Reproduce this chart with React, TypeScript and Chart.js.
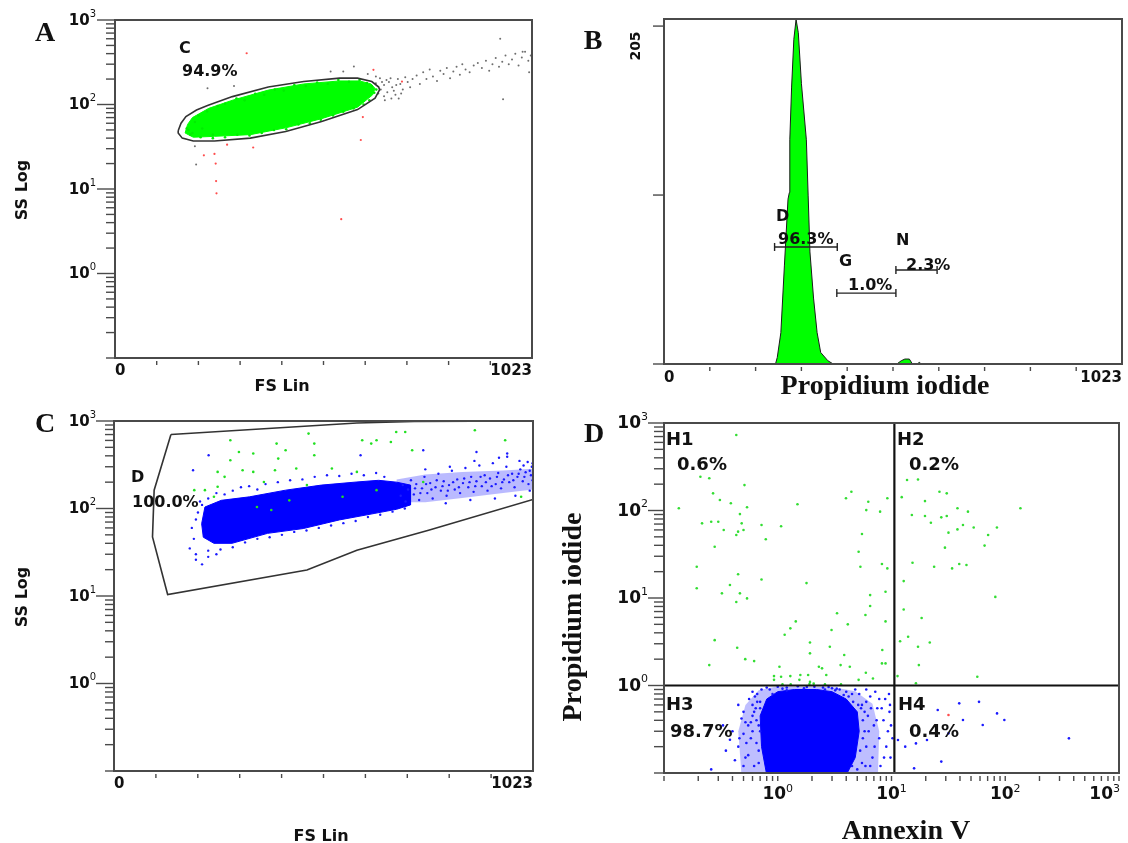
import React, { useEffect, useRef } from 'react';
import { Chart, registerables } from 'chart.js';

Chart.register(...registerables);

type P = [number, number];

// ---------------- shared axis ticks ----------------
const LIN_TICKS = [0, 102.3, 204.6, 306.9, 409.2, 511.5, 613.8, 716.1, 818.4, 920.7, 1023];
const LIN_TICK_LABELS = ['0', '1023'];
const LOG_TICKS = [0.1, 0.2, 0.3, 0.4, 0.5, 0.6, 0.7, 0.8, 0.9, 1, 2, 3, 4, 5, 6, 7, 8, 9, 10, 20, 30, 40, 50, 60, 70, 80, 90, 100, 200, 300, 400, 500, 600, 700, 800, 900, 1000];
const LOG_MAJOR = [1, 10, 100, 1000];
const LOG_LABEL_VALUES = [1, 10, 100, 1000];
const LOG_LABEL_EXPONENTS = ['0', '1', '2', '3'];
const B_Y_TICKS = [0, 102.5, 205];
const B_Y_TICK_LABEL = '205';

// ---------------- Panel A: FS Lin vs SS Log, gate C ----------------
const gateA_ellipse: P[] = [
  [155, 49], [162, 60], [174, 72], [200, 86], [227, 97], [288, 124], [376, 161], [463, 187], [551, 205], [595, 205],
  [630, 187], [647, 161], [649, 149], [638, 119], [595, 87], [507, 63], [419, 48], [332, 40], [244, 37], [192, 37],
  [165, 40], [155, 46], [155, 49],
];
const greenA_cloud: P[] = [
  [172, 46], [178, 58], [190, 70], [230, 90], [290, 113], [376, 148], [463, 175], [551, 190], [600, 190], [628, 175],
  [638, 155], [632, 130], [595, 93], [507, 68], [419, 53], [332, 44], [244, 42], [192, 41], [172, 46],
];
const greenA_points: P[] = [
  [180, 50], [185, 44], [196, 62], [205, 74], [214, 52], [226, 83], [240, 44], [252, 96], [270, 102], [298, 118],
  [318, 112], [344, 134], [366, 130], [392, 150], [414, 146], [440, 170], [468, 165], [496, 182], [522, 176], [548, 195],
  [574, 186], [600, 195], [618, 180], [630, 165], [641, 150], [636, 138], [624, 112], [610, 100], [585, 90], [560, 82],
  [535, 74], [505, 66], [478, 60], [450, 58], [420, 51], [390, 50], [360, 46], [330, 43], [300, 44], [270, 41],
  [240, 40], [210, 41], [190, 46], [176, 52],
];
const greyA_points: P[] = [
  [652, 150], [660, 170], [668, 140], [672, 185], [680, 160], [688, 130], [694, 200], [700, 175], [706, 150], [712, 210],
  [660, 125], [676, 205], [690, 170], [702, 135], [718, 185], [724, 160], [730, 200], [684, 145], [666, 195], [646, 135],
  [655, 185], [662, 112], [678, 118], [696, 118], [640, 178], [650, 205],
  [740, 220], [748, 175], [756, 240], [764, 200], [772, 260], [780, 215], [790, 190], [798, 250], [806, 230], [814, 270],
  [822, 205], [830, 245], [838, 280], [846, 225], [852, 300], [860, 260],
  [870, 240], [880, 290], [890, 310], [900, 270], [910, 330], [918, 250], [926, 300], [934, 355], [942, 280], [950, 320],
  [958, 380], [966, 300], [974, 340], [982, 400], [990, 290], [998, 360], [1006, 420], [1014, 330], [1020, 380],
  [945, 600], [1000, 420], [1016, 240], [952, 115], [227, 156], [292, 166], [560, 245], [586, 281], [529, 245],
  [196, 32], [199, 19.5], [620, 230], [640, 215],
];
const redA_points: P[] = [
  [323, 404], [608, 71], [603, 38], [555, 4.4], [244, 26], [247, 20], [248, 12.4], [249, 8.9], [218, 25], [339, 31],
  [275, 33.5], [634, 257], [704, 187],
];

// ---------------- Panel B: Propidium iodide histogram ----------------
const histB_channel = [249, 253, 261, 269, 273, 277, 280, 281, 285, 290, 295, 300, 307, 318, 322, 326, 334, 342, 350, 366, 378, 520, 530, 538, 548, 555, 566, 570, 575, 580];
const histB_count = [0, 4, 19, 60, 80, 100, 104, 136, 168, 197, 209, 201, 170, 136, 102, 68, 40, 19, 7, 2, 0, 0, 2, 3, 3, 0, 0, 1, 0, 0];
const gateB_names = ['D', 'G', 'N'];
const gateB_percent = ['96.3%', '1.0%', '2.3%'];
const gateB_start = [247, 386, 518];
const gateB_end = [387, 518, 610];
const gateB_level = [71, 43, 57];

// ---------------- Panel C: FS Lin vs SS Log, gate D ----------------
const gateC_polygon: P[] = [
  [139, 700], [593, 949], [733, 985], [1023, 1000], [1023, 127], [768, 56.5], [593, 33.4], [471, 19.8], [131, 10.4],
  [94, 47.4], [98, 162], [139, 700],
];
const blueC_core: P[] = [
  [222, 104], [262, 124], [331, 136], [419, 162], [506, 185], [593, 201], [646, 210], [690, 200], [724, 185], [724, 110],
  [690, 98], [637, 88], [550, 74], [462, 59], [375, 52], [288, 40], [244, 40], [218, 47], [214, 67], [222, 104],
];
const blueC_band: P[] = [
  [690, 118], [690, 215], [760, 245], [850, 262], [950, 272], [1023, 285], [1023, 165], [950, 150], [850, 132], [760, 118], [690, 118],
];
const blueC_points: P[] = [
  [700, 140], [705, 185], [712, 120], [718, 165], [725, 210], [732, 145], [738, 190], [745, 125], [752, 170], [758, 230],
  [765, 150], [772, 195], [778, 130], [785, 175], [792, 250], [798, 160], [805, 205], [812, 140], [818, 185], [825, 270],
  [832, 165], [838, 215], [845, 150], [852, 195], [858, 290], [865, 175], [872, 230], [878, 155], [885, 205], [892, 310],
  [898, 180], [905, 240], [912, 160], [918, 220], [925, 330], [932, 190], [938, 255], [945, 170], [952, 215], [958, 300],
  [965, 200], [972, 250], [978, 175], [985, 230], [992, 280], [998, 205], [1005, 260], [1012, 190], [1018, 240], [1020, 300],
  [1010, 340], [990, 350], [960, 390], [940, 380], [880, 350], [820, 300], [760, 280], [1015, 160], [980, 140], [930, 130],
  [870, 125], [810, 115], [1000, 310], [1022, 210], [1022, 330],
  [735, 170], [748, 150], [762, 190], [775, 165], [788, 210], [802, 180], [815, 160], [828, 200], [842, 175], [855, 220],
  [868, 200], [882, 180], [895, 230], [908, 200], [922, 180], [935, 230], [948, 200], [962, 240], [975, 210], [988, 250],
  [1002, 230], [1015, 270],
  [190, 60], [195, 45], [200, 75], [205, 90], [185, 35], [200, 30], [215, 110], [210, 120], [230, 130], [250, 150],
  [270, 145], [290, 160], [310, 175], [330, 180], [350, 165], [370, 190], [400, 200], [430, 210], [460, 215], [490, 230],
  [520, 240], [550, 235], [580, 250], [610, 240], [640, 255], [660, 230],
  [230, 33], [260, 34], [290, 36], [320, 41], [350, 45], [380, 47], [410, 50], [440, 54], [470, 56], [500, 60],
  [530, 64], [560, 68], [590, 72], [620, 80], [650, 85], [680, 92], [710, 100], [230, 28], [200, 26], [215, 23],
  [250, 30], [231, 406], [193, 274], [602, 406], [755, 463], [885, 443], [960, 425],
];
const greenC_points: P[] = [
  [284, 603], [305, 443], [340, 425], [397, 552], [419, 463], [401, 372], [475, 718], [489, 552], [489, 406], [445, 286],
  [393, 274], [366, 201], [340, 262], [314, 274], [253, 262], [270, 230], [284, 356], [253, 177], [222, 162], [196, 162],
  [244, 136], [606, 603], [628, 552], [641, 603], [676, 576], [689, 748], [711, 748], [728, 463], [755, 201], [881, 783],
  [955, 603], [994, 136], [532, 286], [593, 262], [471, 185], [428, 124], [384, 96], [349, 104], [558, 136], [641, 162],
];

// ---------------- Panel D: Annexin V vs Propidium iodide ----------------
const quadD_splitX = 10.6;
const quadD_splitY = 1.0;
const quadD_names = ['H1', 'H2', 'H3', 'H4'];
const quadD_percent = ['0.6%', '0.2%', '98.7%', '0.4%'];
const blueD_core: P[] = [
  [0.72, 0.2], [0.7, 0.45], [0.8, 0.7], [1.0, 0.85], [1.4, 0.9], [2.2, 0.9], [3, 0.85], [4, 0.7], [5, 0.5], [5.2, 0.3],
  [4.8, 0.15], [4, 0.095], [0.8, 0.095], [0.72, 0.2],
];
const blueD_halo: P[] = [
  [0.48, 0.095], [0.45, 0.3], [0.52, 0.6], [0.68, 0.88], [0.95, 0.97], [3, 0.96], [4.8, 0.86], [6.8, 0.62], [7.8, 0.3],
  [7.6, 0.095], [0.48, 0.095],
];
const blueD_points: P[] = [
  [0.4, 0.3], [0.45, 0.2], [0.5, 0.5], [0.52, 0.15], [0.55, 0.35], [0.58, 0.25], [0.6, 0.6], [0.62, 0.12], [0.65, 0.4], [0.66, 0.8],
  [0.68, 0.18], [0.7, 0.3], [0.48, 0.42], [0.42, 0.14], [0.38, 0.24], [0.5, 0.28], [0.56, 0.7], [0.6, 0.85], [0.64, 0.55], [0.7, 0.65],
  [0.72, 0.9], [0.45, 0.6], [0.35, 0.18], [0.53, 0.22], [0.6, 0.45], [0.68, 0.35], [0.33, 0.35], [0.26, 0.11],
  [0.55, 0.16], [0.6, 0.3], [0.62, 0.5], [0.65, 0.22], [0.66, 0.65], [0.68, 0.13], [0.7, 0.55], [0.58, 0.38], [0.63, 0.75], [0.5, 0.12],
  [0.46, 0.25], [0.52, 0.38],
  [0.8, 0.95], [1.0, 0.97], [1.2, 0.95], [1.5, 0.98], [1.8, 0.96], [2.1, 0.97], [2.5, 0.95], [3, 0.93], [3.5, 0.9], [4, 0.85],
  [1.1, 0.92], [1.7, 0.93], [2.8, 0.96], [3.2, 0.88], [0.85, 0.9], [0.9, 0.8], [1.2, 0.88], [2.6, 0.9], [3.3, 0.92], [3.8, 0.78],
  [5.5, 0.6], [5.8, 0.3], [6, 0.2], [6.2, 0.45], [6.5, 0.75], [6.8, 0.15], [7, 0.35], [7.5, 0.55], [7.8, 0.25], [8, 0.12],
  [8.5, 0.4], [8.8, 0.7], [9, 0.2], [9.3, 0.3], [9.6, 0.5], [9.8, 0.15], [5.2, 0.8], [5.5, 0.13], [6.5, 0.12], [7.2, 0.85],
  [6, 0.65], [8.2, 0.55], [9.5, 0.8], [5.6, 0.4], [4.5, 0.8], [4.8, 0.9],
  [4.2, 0.75], [4.6, 0.65], [5.1, 0.6], [5.4, 0.55], [5.6, 0.25], [5.3, 0.18], [5.8, 0.5], [5.9, 0.12], [6.3, 0.3], [6.6, 0.55],
  [7.1, 0.2], [7.4, 0.4], [5.0, 0.11], [4.5, 0.12], [6.0, 0.9], [7.8, 0.7], [8.6, 0.15], [9.9, 0.35], [9.7, 0.6], [10.2, 0.25],
  [39.4, 0.625], [58.8, 0.65], [84.7, 0.48], [98.2, 0.404], [63.4, 0.354], [42.5, 0.404], [25.5, 0.525], [363, 0.249], [15.8, 0.113], [27.4, 0.135],
  [20.5, 0.238], [16.4, 0.218], [13.2, 0.2], [11.4, 0.238], [31.7, 0.284],
];
const greenD_points: P[] = [
  [0.432, 730], [0.209, 243], [0.25, 234], [0.51, 195], [0.27, 157], [0.31, 132], [0.387, 121], [0.135, 106], [0.537, 109], [1.49, 118],
  [0.216, 71.3], [0.26, 74.5], [0.3, 74.5], [0.335, 59.8], [0.465, 91], [0.482, 71.3], [0.448, 57.3], [0.432, 52.5], [0.5, 59.8], [0.72, 68.2],
  [1.07, 66], [0.785, 46.9], [0.279, 38.5], [0.194, 22.8], [0.448, 18.7], [0.72, 16.3], [0.38, 14.1], [0.194, 12.9], [0.323, 11.3], [0.465, 11.3],
  [0.432, 9.0], [0.537, 9.9], [1.79, 14.8], [1.44, 5.4], [1.29, 4.5], [1.15, 3.8], [0.279, 3.3], [0.44, 2.7], [0.25, 1.71], [0.518, 2.0],
  [0.62, 1.9], [0.927, 1.28], [1.035, 1.64], [1.07, 1.26], [1.29, 1.28], [1.58, 1.32], [1.85, 1.32], [1.92, 1.1], [2.07, 1.05], [2.3, 1.64],
  [2.45, 1.57], [2.67, 1.32], [1.92, 2.33], [1.92, 3.1], [2.87, 2.77], [2.97, 4.3], [3.32, 6.7], [3.84, 2.23], [3.57, 1.71], [4.13, 5.0],
  [4.3, 1.64], [5.9, 6.4], [6.49, 8.1], [6.49, 10.8], [5.14, 33.8], [5.33, 22.8], [5.5, 53.8], [6.0, 101], [6.25, 126], [7.94, 97],
  [8.24, 24.5], [9.19, 21.8], [8.86, 11.8], [8.86, 5.4], [8.3, 2.55], [8.24, 1.79], [8.86, 1.79], [9.19, 138], [3.98, 138], [4.44, 164],
  [5.95, 1.4], [6.87, 1.2], [5.14, 1.16], [0.927, 1.16], [1.55, 1.16], [1.1, 1.03], [1.3, 1.03], [1.9, 1.04], [2.6, 1.03], [3.6, 1.03],
  [13.7, 223], [17.1, 226], [12.3, 142], [26.4, 164], [30.6, 157], [19.7, 128], [15.1, 88.8], [19.7, 86.6], [27.4, 83.5], [30.6, 86.6],
  [38, 106], [47, 97], [136, 106], [22.2, 72.5], [31.7, 55.8], [38, 60.8], [42.5, 68.2], [52.8, 64], [70.7, 52.5], [84.5, 64],
  [29.5, 37.6], [65.8, 39.7], [23.7, 22.8], [34.1, 21.8], [39.4, 24.5], [45.6, 23.8], [15.3, 25.3], [12.8, 15.6], [81.8, 10.3], [12.8, 7.4],
  [18.4, 5.9], [11.9, 3.2], [14, 3.6], [21.7, 3.1], [17.1, 2.77], [17.4, 1.71], [56.8, 1.26], [11.3, 1.28], [16.4, 1.06],
];
const redD_points: P[] = [[31.7, 0.46]];

// ---------------- helpers ----------------
const xy = (arr: P[]) => arr.map(([x, y]) => ({ x, y }));

const pts = (data: P[], color: string, r = 1.2) => ({
  data: xy(data), showLine: false, pointRadius: r, pointHoverRadius: 0, pointBorderWidth: 0,
  pointBackgroundColor: color, backgroundColor: color, borderColor: color,
});
const path = (data: P[], color: string, w: number) => ({
  data: xy(data), showLine: true, borderColor: color, borderWidth: w, pointRadius: 0, fill: false, tension: 0,
});
const area = (data: P[], color: string, border?: string) => ({
  data: xy(data), showLine: true, borderColor: border ?? color, borderWidth: border === 'transparent' ? 0 : 1, pointRadius: 0, fill: 'shape',
  backgroundColor: color, tension: 0,
});

function baseOptions(xType: string, yType: string, xMin: number, xMax: number, yMin: number, yMax: number, pad: any) {
  return {
    responsive: false,
    animation: false,
    devicePixelRatio: 1,
    events: [],
    layout: { padding: pad },
    plugins: { legend: { display: false }, tooltip: { enabled: false } },
    scales: {
      x: { type: xType, min: xMin, max: xMax, display: false },
      y: { type: yType, min: yMin, max: yMax, display: false },
    },
  };
}

type TextItem = { t: string; x: number; y: number; font: string; rot?: number; align?: CanvasTextAlign };

type DecorCfg = {
  ox: number; oy: number;
  yMode: 'log' | 'count';
  xMode: 'lin' | 'log';
  majorLen: number; minorLen: number;
  yLabelRight: number;
  tickFont: string; supFont: string;
  xLabelDy: number;
  texts: TextItem[];
};

const SANS = '"DejaVu Sans", sans-serif';
const SERIF = '"Liberation Serif", "DejaVu Serif", serif';

function drawText(ctx: CanvasRenderingContext2D, it: TextItem, ox: number, oy: number) {
  ctx.save();
  ctx.translate(it.x - ox, it.y - oy);
  if (it.rot) ctx.rotate(it.rot);
  ctx.font = it.font;
  ctx.fillStyle = '#111';
  ctx.textAlign = it.align ?? 'center';
  ctx.textBaseline = 'middle';
  ctx.fillText(it.t, 0, 0);
  ctx.restore();
}

function decor(d: DecorCfg) {
  return {
    id: 'decor',
    afterDraw(chart: any) {
      const ctx: CanvasRenderingContext2D = chart.ctx;
      const a = chart.chartArea;
      const xs = chart.scales.x;
      const ys = chart.scales.y;
      const seg = (x1: number, y1: number, x2: number, y2: number) => {
        ctx.beginPath(); ctx.moveTo(x1, y1); ctx.lineTo(x2, y2); ctx.stroke();
      };
      ctx.save();
      ctx.strokeStyle = '#4a4a4a';
      ctx.lineWidth = 2;
      ctx.strokeRect(a.left, a.top, a.right - a.left, a.bottom - a.top);
      ctx.lineWidth = 1.4;
      ctx.fillStyle = '#111';
      ctx.textBaseline = 'middle';
      if (d.yMode === 'log') {
        LOG_TICKS.forEach((v) => {
          const y = ys.getPixelForValue(v);
          const len = LOG_MAJOR.includes(v) ? d.majorLen : d.minorLen;
          seg(a.left - len, y, a.left, y);
        });
        LOG_LABEL_VALUES.forEach((v, i) => {
          const y = ys.getPixelForValue(v);
          const right = d.yLabelRight - d.ox;
          ctx.font = d.supFont;
          const sw = ctx.measureText(LOG_LABEL_EXPONENTS[i]).width;
          ctx.textAlign = 'right';
          ctx.fillText(LOG_LABEL_EXPONENTS[i], right, y - 6);
          ctx.font = d.tickFont;
          ctx.fillText('10', right - sw, y + 1);
        });
      } else {
        B_Y_TICKS.forEach((v) => {
          const y = ys.getPixelForValue(v);
          seg(a.left - d.majorLen, y, a.left, y);
        });
      }
      if (d.xMode === 'lin') {
        LIN_TICKS.slice(1, -1).forEach((v) => {
          const x = xs.getPixelForValue(v);
          seg(x, a.bottom + 3, x, a.bottom + 7);
        });
        ctx.font = d.tickFont;
        ctx.textAlign = 'left';
        ctx.fillText(LIN_TICK_LABELS[0], a.left, a.bottom + d.xLabelDy);
        ctx.textAlign = 'right';
        ctx.fillText(LIN_TICK_LABELS[1], a.right, a.bottom + d.xLabelDy);
      } else {
        LOG_TICKS.forEach((v) => {
          const x = xs.getPixelForValue(v);
          seg(x, a.bottom + 3, x, a.bottom + 8);
        });
        LOG_LABEL_VALUES.forEach((v, i) => {
          const x = xs.getPixelForValue(v);
          const e = LOG_LABEL_EXPONENTS[i];
          ctx.font = d.tickFont;
          const w10 = ctx.measureText('10').width;
          ctx.font = d.supFont;
          const ws = ctx.measureText(e).width;
          let x0 = x - (w10 + ws) / 2;
          if (x0 + w10 + ws > a.right + 1) x0 = a.right + 1 - w10 - ws;
          ctx.textAlign = 'left';
          ctx.font = d.tickFont;
          ctx.fillText('10', x0, a.bottom + d.xLabelDy);
          ctx.font = d.supFont;
          ctx.fillText(e, x0 + w10, a.bottom + d.xLabelDy - 6);
        });
      }
      d.texts.forEach((it) => drawText(ctx, it, d.ox, d.oy));
      ctx.restore();
    },
  };
}

const LETTER_FONT = `bold 28px ${SERIF}`;
const TITLE_SERIF = `bold 28px ${SERIF}`;
const TITLE_SANS = `bold 16px ${SANS}`;
const GATE_FONT = `bold 16px ${SANS}`;
const ROT = -Math.PI / 2;

// ---------------- chart builders ----------------
function makeA(canvas: HTMLCanvasElement) {
  return new Chart(canvas, {
    type: 'line',
    data: {
      datasets: [
        path(gateA_ellipse, '#333333', 1.6),
        pts(redA_points, '#ff4d4d', 1.1),
        pts(greyA_points, '#6e6e6e', 1.0),
        pts(greenA_points, '#00ee00', 1.3),
        area(greenA_cloud, '#00ff00'),
      ] as any,
    },
    options: baseOptions('linear', 'logarithmic', 0, 1023, 0.1, 1000, { left: 115, top: 20, right: 28, bottom: 42 }) as any,
    plugins: [decor({
      ox: 0, oy: 0, yMode: 'log', xMode: 'lin', majorLen: 18, minorLen: 9, yLabelRight: 96,
      tickFont: `bold 15px ${SANS}`, supFont: `10px ${SANS}`, xLabelDy: 13,
      texts: [
        { t: 'A', x: 45, y: 34, font: LETTER_FONT },
        { t: 'SS Log', x: 23, y: 190, font: TITLE_SANS, rot: ROT },
        { t: 'FS Lin', x: 282, y: 387, font: TITLE_SANS },
        { t: 'C', x: 179, y: 49, font: GATE_FONT, align: 'left' },
        { t: '94.9%', x: 182, y: 72, font: GATE_FONT, align: 'left' },
      ],
    })] as any,
  });
}

function makeB(canvas: HTMLCanvasElement) {
  const hist: P[] = histB_channel.map((c, i) => [c, histB_count[i]]);
  const gates = gateB_start.map((s, i) => ({
    data: xy([[s, gateB_level[i]], [gateB_end[i], gateB_level[i]]]),
    showLine: true, borderColor: '#222', borderWidth: 1.4, fill: false,
    pointStyle: 'line', pointRotation: 90, pointRadius: 4, pointHoverRadius: 0,
    pointBorderColor: '#222', pointBorderWidth: 1.4,
  }));
  return new Chart(canvas, {
    type: 'line',
    data: {
      datasets: [
        ...gates,
        {
          data: xy(hist), showLine: true, fill: 'origin', backgroundColor: '#00ff00', borderColor: '#1a1a1a',
          borderWidth: 1, pointRadius: 0, tension: 0,
        },
      ] as any,
    },
    options: baseOptions('linear', 'linear', 0, 1023, 0, 209.3, { left: 104, top: 19, right: 6, bottom: 36 }) as any,
    plugins: [decor({
      ox: 560, oy: 0, yMode: 'count', xMode: 'lin', majorLen: 11, minorLen: 11, yLabelRight: 652,
      tickFont: `bold 15px ${SANS}`, supFont: `10px ${SANS}`, xLabelDy: 14,
      texts: [
        { t: 'B', x: 593, y: 42, font: LETTER_FONT },
        { t: B_Y_TICK_LABEL, x: 636, y: 46, font: `bold 14px ${SANS}`, rot: ROT },
        { t: 'Propidium iodide', x: 885, y: 387, font: TITLE_SERIF },
        { t: gateB_names[0], x: 776, y: 217, font: GATE_FONT, align: 'left' },
        { t: gateB_percent[0], x: 778, y: 240, font: GATE_FONT, align: 'left' },
        { t: gateB_names[1], x: 839, y: 262, font: GATE_FONT, align: 'left' },
        { t: gateB_percent[1], x: 848, y: 286, font: GATE_FONT, align: 'left' },
        { t: gateB_names[2], x: 896, y: 241, font: GATE_FONT, align: 'left' },
        { t: gateB_percent[2], x: 906, y: 266, font: GATE_FONT, align: 'left' },
      ],
    })] as any,
  });
}

function makeC(canvas: HTMLCanvasElement) {
  return new Chart(canvas, {
    type: 'line',
    data: {
      datasets: [
        path(gateC_polygon, '#333333', 1.6),
        pts(greenC_points, '#22e022', 1.3),
        pts(blueC_points, '#1a1aff', 1.2),
        area(blueC_core, '#0000ff'),
        area(blueC_band, 'rgba(40,40,255,0.32)', 'transparent'),
      ] as any,
    },
    options: baseOptions('linear', 'logarithmic', 0, 1023, 0.1, 1000, { left: 114, top: 21, right: 27, bottom: 72 }) as any,
    plugins: [decor({
      ox: 0, oy: 400, yMode: 'log', xMode: 'lin', majorLen: 18, minorLen: 9, yLabelRight: 96,
      tickFont: `bold 15px ${SANS}`, supFont: `10px ${SANS}`, xLabelDy: 13,
      texts: [
        { t: 'C', x: 45, y: 425, font: LETTER_FONT },
        { t: 'SS Log', x: 23, y: 597, font: TITLE_SANS, rot: ROT },
        { t: 'FS Lin', x: 321, y: 837, font: TITLE_SANS },
        { t: 'D', x: 131, y: 478, font: GATE_FONT, align: 'left' },
        { t: '100.0%', x: 132, y: 503, font: GATE_FONT, align: 'left' },
      ],
    })] as any,
  });
}

function makeD(canvas: HTMLCanvasElement) {
  const QF = `bold 18px ${SANS}`;
  return new Chart(canvas, {
    type: 'line',
    data: {
      datasets: [
        path([[quadD_splitX, 0.1], [quadD_splitX, 1000]], '#111111', 2.2),
        path([[0.1, quadD_splitY], [1000, quadD_splitY]], '#111111', 2.2),
        pts(redD_points, '#ff4d4d', 1.3),
        pts(greenD_points, '#33dd33', 1.3),
        pts(blueD_points, '#1a1aff', 1.3),
        area(blueD_core, '#0000ff'),
        area(blueD_halo, 'rgba(40,40,255,0.3)', 'transparent'),
      ] as any,
    },
    options: baseOptions('logarithmic', 'logarithmic', 0.1, 1000, 0.1, 1000, { left: 104, top: 23, right: 9, bottom: 70 }) as any,
    plugins: [decor({
      ox: 560, oy: 400, yMode: 'log', xMode: 'log', majorLen: 16, minorLen: 10, yLabelRight: 648,
      tickFont: `bold 17px ${SANS}`, supFont: `11px ${SANS}`, xLabelDy: 22,
      texts: [
        { t: 'D', x: 594, y: 435, font: LETTER_FONT },
        { t: 'Propidium iodide', x: 574, y: 617, font: TITLE_SERIF, rot: ROT },
        { t: 'Annexin V', x: 906, y: 832, font: TITLE_SERIF },
        { t: quadD_names[0], x: 666, y: 440, font: QF, align: 'left' },
        { t: quadD_percent[0], x: 677, y: 465, font: QF, align: 'left' },
        { t: quadD_names[1], x: 897, y: 440, font: QF, align: 'left' },
        { t: quadD_percent[1], x: 909, y: 465, font: QF, align: 'left' },
        { t: quadD_names[2], x: 666, y: 705, font: QF, align: 'left' },
        { t: quadD_percent[2], x: 670, y: 732, font: QF, align: 'left' },
        { t: quadD_names[3], x: 898, y: 705, font: QF, align: 'left' },
        { t: quadD_percent[3], x: 909, y: 732, font: QF, align: 'left' },
      ],
    })] as any,
  });
}

function Panel({ left, top, width, height, make }: { left: number; top: number; width: number; height: number; make: (c: HTMLCanvasElement) => Chart }) {
  const ref = useRef<HTMLCanvasElement | null>(null);
  useEffect(() => {
    if (!ref.current) return;
    const chart = make(ref.current);
    return () => chart.destroy();
  }, [make]);
  return (
    <canvas
      ref={ref}
      width={width}
      height={height}
      style={{ position: 'absolute', left, top, width, height, display: 'block' }}
    />
  );
}

export default function App() {
  return (
    <div style={{ position: 'absolute', left: 0, top: 0, width: 1128, height: 843, background: '#ffffff', overflow: 'hidden' }}>
      <Panel left={0} top={0} width={560} height={400} make={makeA} />
      <Panel left={560} top={0} width={568} height={400} make={makeB} />
      <Panel left={0} top={400} width={560} height={443} make={makeC} />
      <Panel left={560} top={400} width={568} height={443} make={makeD} />
    </div>
  );
}
